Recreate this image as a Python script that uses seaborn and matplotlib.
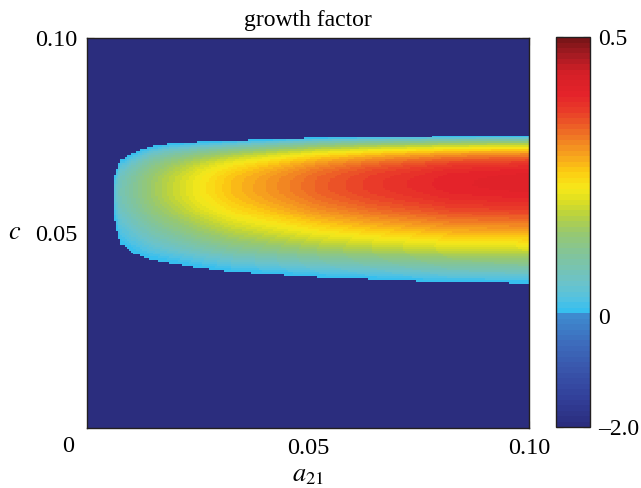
import numpy as np
import pandas as pd
import matplotlib
matplotlib.use("Agg")
import matplotlib.pyplot as plt
import seaborn as sns
from matplotlib.colors import LinearSegmentedColormap, FuncNorm
from matplotlib.ticker import FixedFormatter

sns.set_theme(style="white")
plt.rcParams["font.family"] = ["Liberation Serif", "DejaVu Serif"]
plt.rcParams["mathtext.fontset"] = "stix"

# ---- values -----------------------------------------------------------
# a21 positions along the unstable tongue
a21_nodes = [0.0060, 0.0068, 0.0075, 0.0104, 0.0143, 0.0181, 0.0256,
             0.0330, 0.0527, 0.0647, 0.0821, 0.1000]
# upper / lower c where growth factor crosses zero
c_high = [0.0640, 0.0665, 0.0687, 0.0705, 0.0721, 0.0728, 0.0733,
          0.0736, 0.0744, 0.0746, 0.0748, 0.0749]
c_low = [0.0540, 0.0505, 0.0474, 0.0449, 0.0431, 0.0423, 0.0410,
         0.0400, 0.0387, 0.0382, 0.0374, 0.0372]
# c of the ridge and growth factor on the ridge
c_peak = [0.0595, 0.0598, 0.0600, 0.0603, 0.0605, 0.0606, 0.0608,
          0.0610, 0.0615, 0.0618, 0.0621, 0.0623]
g_peak = [0.03, 0.06, 0.08, 0.11, 0.15, 0.18, 0.23, 0.27, 0.34,
          0.37, 0.40, 0.41]
stable_value = -2.0

a21_range = [0.0, 0.10]
c_range = [0.0, 0.10]
x_ticks = [0.05, 0.10]
x_ticklabels = ["0.05", "0.10"]
y_ticks = [0.10, 0.05]
y_ticklabels = ["0.10", "0.05"]
cbar_ticks = [-2.0, 0.0, 0.5]
cbar_ticklabels = ["\u20132.0", "0", "0.5"]
cbar_positions = [0.0, 0.285, 1.0]   # non-uniform colour-bar spacing

# colour map anchors (value, colour)
cmap_values = [-2.0, -1.5, -1.0, -0.5, -0.01, 0.005, 0.03, 0.06, 0.11,
               0.15, 0.18, 0.21, 0.23, 0.26, 0.28, 0.31, 0.34, 0.37,
               0.40, 0.44, 0.47, 0.50]
cmap_colors = ["#2b2d7e", "#32409a", "#3955ab", "#3d6dbd", "#3e8bcf",
               "#34bff0", "#55c2e0", "#6cc3c8", "#82c49a", "#98c86e",
               "#b8d240", "#e0e020", "#f6e81a", "#fccc12", "#f9b01a",
               "#f38a22", "#ed6226", "#e93c29", "#e5232a", "#d41f27",
               "#a81b22", "#7b1518"]

# ---- build the field on a grid ----------------------------------------
N = 200
a21_grid = a21_range[0] + (np.arange(N) + 0.5) * (a21_range[1] - a21_range[0]) / N
c_grid = c_range[0] + (np.arange(N) + 0.5) * (c_range[1] - c_range[0]) / N
A, C = np.meshgrid(a21_grid, c_grid)
hi = np.interp(A, a21_nodes, c_high)
lo = np.interp(A, a21_nodes, c_low)
pk = np.interp(A, a21_nodes, c_peak)
gp = np.interp(A, a21_nodes, g_peak)
t_up = np.clip((C - pk) / (hi - pk), 0, None)
t_dn = np.clip((pk - C) / (pk - lo), 0, None)
G = np.where(C >= pk, gp * (1 - t_up ** 3), gp * (1 - t_dn ** 1.6))
inside = (A >= a21_nodes[0]) & (C <= hi) & (C >= lo)
G = np.where(inside, np.maximum(G, 0.005), stable_value)

df = pd.DataFrame(G[::-1], index=np.round(c_grid[::-1], 5),
                  columns=np.round(a21_grid, 5))

# ---- colour map and norm ----------------------------------------------
def fwd(v):
    return np.interp(v, cbar_ticks, cbar_positions)


def inv(p):
    return np.interp(p, cbar_positions, cbar_ticks)


anchor_pos = [float(fwd(v)) for v in cmap_values]
cmap = LinearSegmentedColormap.from_list(
    "growth", list(zip(anchor_pos, cmap_colors)), N=72)
norm = FuncNorm((fwd, inv), vmin=cbar_ticks[0], vmax=cbar_ticks[-1])

# ---- figure ------------------------------------------------------------
fig = plt.figure(figsize=(6.41, 4.88), dpi=100)
ax = fig.add_axes([0.1357, 0.123, 0.6896, 0.799])
cax = fig.add_axes([0.8674, 0.125, 0.053, 0.799])

sns.heatmap(df, ax=ax, cbar_ax=cax, cmap=cmap, norm=norm,
            xticklabels=False, yticklabels=False,
            cbar_kws={"ticks": cbar_ticks})

edge = "#231f20"
for s in ax.spines.values():
    s.set_visible(True)
    s.set_color(edge)
    s.set_linewidth(1.0)


def xpos(v):
    return (v - a21_range[0]) / (a21_range[1] - a21_range[0]) * N


def ypos(v):
    return (c_range[1] - v) / (c_range[1] - c_range[0]) * N


fs = 17.5
ax.set_xticks([xpos(v) for v in x_ticks])
ax.set_xticklabels(x_ticklabels)
ax.set_yticks([ypos(v) for v in y_ticks])
ax.set_yticklabels(y_ticklabels, rotation=0)
ax.tick_params(axis="both", which="both", direction="in", length=5,
               width=0.8, color=edge, labelsize=fs, pad=7,
               top=True, right=True, bottom=True, left=True,
               labelcolor="black")
ax.text(-0.043, -0.020, "0", transform=ax.transAxes, ha="center",
        va="top", fontsize=fs, color="black")

ax.set_xlabel(r"$a_{21}$", fontsize=19, color="black")
ax.xaxis.set_label_coords(0.5, -0.096)
ax.set_ylabel(r"$c$", fontsize=19, rotation=0, color="black",
              ha="center", va="center")
ax.yaxis.set_label_coords(-0.163, 0.5)
ax.set_title("growth factor", fontsize=17, pad=9, color="black")

cb = ax.collections[0].colorbar
cb.outline.set_linewidth(1.0)
cb.outline.set_edgecolor(edge)
cax.yaxis.set_major_formatter(FixedFormatter(cbar_ticklabels))
cax.tick_params(axis="y", direction="in", length=5, width=0.8,
                color=edge, left=True, right=True, labelsize=17, pad=6,
                labelcolor="black")
cax.minorticks_off()

fig.savefig("out.png", dpi=100, facecolor="white")
